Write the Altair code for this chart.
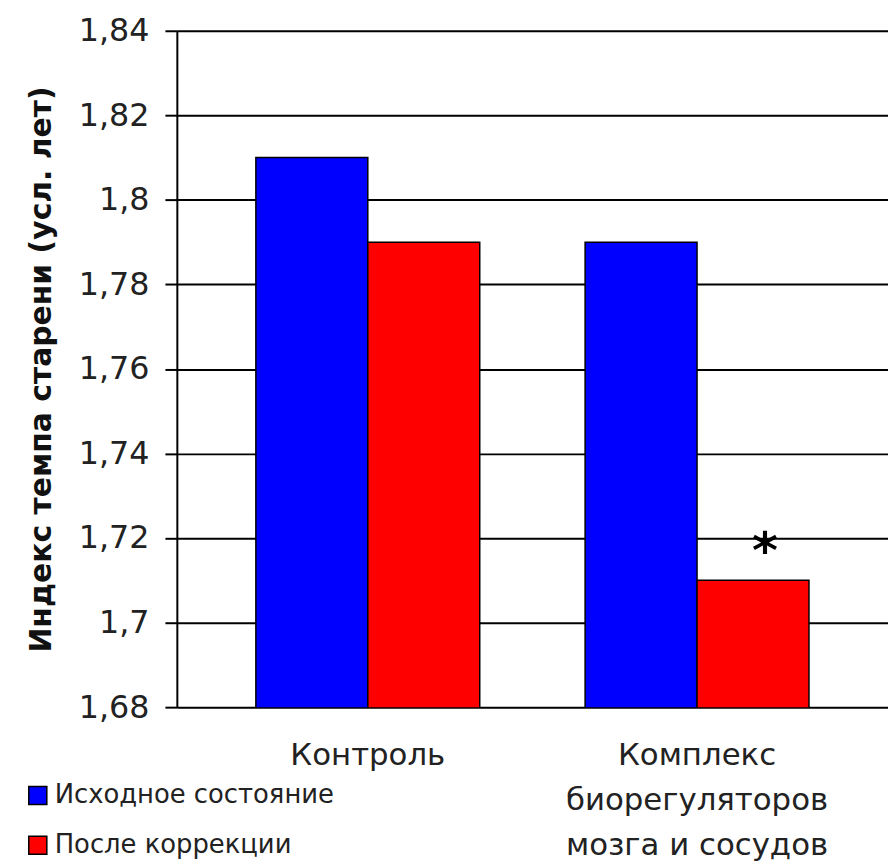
import altair as alt
import pandas as pd

groups = ["Контроль", "Комплекс\nбиорегуляторов\nмозга и сосудов"]
series = ["Исходное состояние", "После коррекции"]
initial_vals = [1.81, 1.79]
after_vals = [1.79, 1.71]
notes_after = ["", "*"]
colors = ["#0000FF", "#FF0000"]
y_ticks = [1.68, 1.70, 1.72, 1.74, 1.76, 1.78, 1.80, 1.82, 1.84]

rows = []
for i, g in enumerate(groups):
    rows.append({"group": g, "series": series[0], "value": initial_vals[i], "note": ""})
    rows.append({"group": g, "series": series[1], "value": after_vals[i], "note": notes_after[i]})
df = pd.DataFrame(rows)

x_enc = alt.X("group:N", sort=groups, title=None,
              scale=alt.Scale(paddingInner=0.32, paddingOuter=0.24),
              axis=alt.Axis(domain=False, ticks=False, labelAngle=0, labelPadding=34,
                            labelFont="DejaVu Sans", labelFontSize=31, labelColor="#222",
                            labelLineHeight=45, labelBaseline="top", labelLimit=0,
                            labelExpr="split(datum.label, '\\n')"))
xoff = alt.XOffset("series:N", sort=series, scale=alt.Scale(paddingInner=0, paddingOuter=0))
y_enc = alt.Y("value:Q", title="Индекс темпа старени (усл. лет)",
              scale=alt.Scale(domain=[1.68, 1.84], zero=False, nice=False),
              axis=alt.Axis(values=y_ticks, labelExpr="replace(format(datum.value, '.2~f'), '.', ',')",
                            labelFont="DejaVu Sans", labelFontSize=32, labelColor="#222",
                            labelPadding=16, tickSize=12, tickColor="black", tickWidth=2,
                            domainColor="black", domainWidth=2,
                            grid=True, gridColor="black", gridWidth=2, gridOpacity=1,
                            titleFont="DejaVu Sans", titleFontSize=30, titleFontWeight="bold",
                            titleColor="#111", titlePadding=22))

base = alt.Chart(df)

bars = base.mark_bar(stroke="black", strokeWidth=1.5, clip=True).encode(
    x=x_enc, xOffset=xoff, y=y_enc,
    color=alt.Color("series:N", sort=series,
                    scale=alt.Scale(domain=series, range=colors),
                    legend=alt.Legend(title=None, orient="none", legendX=-153, legendY=757,
                                      direction="vertical", symbolType="square", symbolSize=330,
                                      symbolStrokeColor="black", symbolStrokeWidth=1.5,
                                      labelFont="DejaVu Sans", labelFontSize=26, labelColor="#222",
                                      labelLimit=0, rowPadding=24, labelOffset=4)),
)

star = base.transform_filter("datum.note != ''").mark_text(
    fontSize=50, fontWeight="bold", color="black", baseline="alphabetic", dy=-12, dx=12,
    font="DejaVu Sans"
).encode(x=alt.X("group:N", sort=groups), xOffset=xoff, y="value:Q", text="note:N")

chart = alt.layer(bars, star).properties(
    width=716, height=681,
    padding={"left": 170, "top": 20, "right": 0, "bottom": 156},
    autosize=alt.AutoSizeParams(type="none"),
).configure_view(strokeWidth=0).configure(background="white")

chart.save("out.html", embed_options={"renderer": "svg", "actions": False})
